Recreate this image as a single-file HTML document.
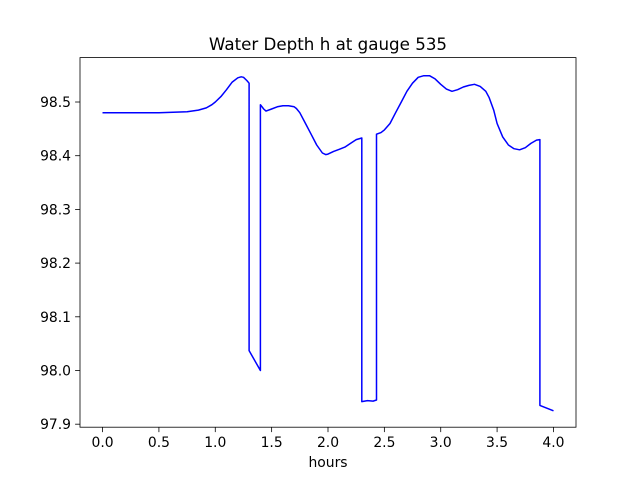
<!DOCTYPE html>
<html><head><meta charset="utf-8"><style>
html,body{margin:0;padding:0;background:#fff;}
svg text{font-family:"DejaVu Sans","Liberation Sans",sans-serif;fill:#000;}
</style></head><body>
<svg id="chart" width="640" height="480" viewBox="0 0 640 480" xmlns="http://www.w3.org/2000/svg">
<rect width="640" height="480" fill="#fff"/>
<text x="328" y="50" font-size="16.7" text-anchor="middle">Water Depth h at gauge 535</text>
<g id="plot"></g>
<text x="328" y="467" font-size="13.9" text-anchor="middle">hours</text>
</svg>
<script>
const xs = [0,0.5,0.75,0.85,0.92,0.97,1.0,1.05,1.1,1.15,1.2,1.23,1.25,1.28,1.3,1.3,1.4,1.4,1.43,1.45,1.5,1.55,1.6,1.65,1.7,1.72,1.75,1.8,1.85,1.9,1.95,1.98,2.0,2.05,2.1,2.15,2.2,2.25,2.3,2.3,2.35,2.4,2.43,2.43,2.47,2.5,2.55,2.6,2.65,2.7,2.75,2.8,2.85,2.9,2.95,3.0,3.05,3.1,3.15,3.2,3.25,3.3,3.35,3.4,3.43,3.47,3.5,3.55,3.6,3.65,3.7,3.75,3.8,3.85,3.88,3.88,4.0];
const ys = [98.48,98.48,98.482,98.485,98.489,98.495,98.50,98.51,98.523,98.537,98.545,98.547,98.546,98.54,98.535,98.037,98.0,98.495,98.487,98.483,98.487,98.491,98.493,98.493,98.491,98.488,98.48,98.46,98.44,98.42,98.405,98.402,98.403,98.408,98.412,98.416,98.423,98.43,98.433,97.942,97.944,97.943,97.945,98.44,98.443,98.448,98.46,98.48,98.5,98.52,98.535,98.546,98.549,98.549,98.543,98.533,98.524,98.52,98.523,98.528,98.531,98.533,98.529,98.52,98.508,98.485,98.46,98.435,98.42,98.413,98.411,98.415,98.423,98.429,98.43,97.935,97.925];
const xTicks = [0,0.5,1.0,1.5,2.0,2.5,3.0,3.5,4.0];
const xTickLabels = ["0.0","0.5","1.0","1.5","2.0","2.5","3.0","3.5","4.0"];
const yTicks = [97.9,98.0,98.1,98.2,98.3,98.4,98.5];
const yTickLabels = ["97.9","98.0","98.1","98.2","98.3","98.4","98.5"];

const L=80,R=576,T=57.6,B=427.2;
const xmin=-0.2,xmax=4.2,ymin=97.8944,ymax=98.5827;
const sx=v=>L+(v-xmin)/(xmax-xmin)*(R-L);
const sy=v=>B-(v-ymin)/(ymax-ymin)*(B-T);
const NS="http://www.w3.org/2000/svg";
const g=document.getElementById('plot');
function mk(tag,attrs){const e=document.createElementNS(NS,tag);for(const k in attrs)e.setAttribute(k,attrs[k]);g.appendChild(e);return e;}

const line=mk('polyline',{points:xs.map((x,i)=>sx(x).toFixed(1)+','+sy(ys[i]).toFixed(1)).join(' '),fill:'none',stroke:'#0000ff','stroke-width':1.5,'stroke-linejoin':'round'});



const frame=mk('rect',{x:L,y:T,width:R-L,height:B-T,fill:'none',stroke:'#000','stroke-width':0.8});



xTicks.forEach((v,i)=>{
  const t=mk('line',{x1:sx(v),x2:sx(v),y1:B,y2:B+4.9,stroke:'#000','stroke-width':0.8});
  
  
  const l=mk('text',{x:sx(v),y:B+20,'font-size':13.9,'text-anchor':'middle'});
  l.textContent=xTickLabels[i];
  
  
});
yTicks.forEach((v,i)=>{
  const t=mk('line',{x1:L-4.9,x2:L,y1:sy(v),y2:sy(v),stroke:'#000','stroke-width':0.8});
  
  
  const l=mk('text',{x:L-9,y:sy(v)+5,'font-size':13.9,'text-anchor':'end'});
  l.textContent=yTickLabels[i];
  
  
});
</script>
</body></html>
